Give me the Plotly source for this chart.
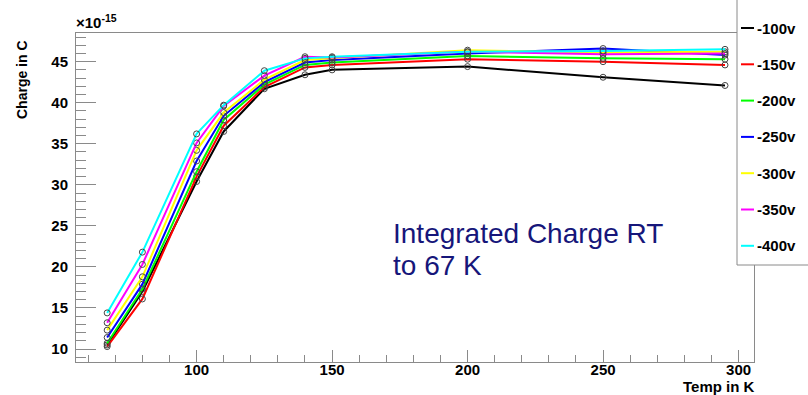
import plotly.graph_objects as go

# ---- data ----
temps = [67, 80, 100, 110, 125, 140, 150, 200, 250, 295]
series_names = ["-100v", "-150v", "-200v", "-250v", "-300v", "-350v", "-400v"]
series_colors = ["#000000", "#ff0000", "#00ff00", "#0000ff", "#ffff00", "#ff00ff", "#00ffff"]
v100 = [10.5, 17.0, 30.4, 36.5, 41.7, 43.4, 44.0, 44.4, 43.1, 42.1]
v150 = [10.3, 16.1, 31.0, 37.2, 41.9, 44.3, 44.6, 45.3, 45.0, 44.6]
v200 = [10.7, 17.3, 31.6, 37.9, 42.2, 44.6, 44.9, 45.7, 45.4, 45.3]
v250 = [11.4, 17.9, 32.9, 38.4, 42.5, 44.9, 45.2, 46.0, 46.6, 45.8]
v300 = [12.3, 18.8, 34.2, 38.8, 42.8, 45.2, 45.4, 46.4, 46.1, 46.2]
v350 = [13.2, 20.3, 35.1, 39.6, 43.3, 45.6, 45.5, 46.2, 45.9, 46.0]
v400 = [14.4, 21.8, 36.2, 39.7, 43.9, 45.4, 45.6, 46.2, 46.3, 46.5]
series_values = [v100, v150, v200, v250, v300, v350, v400]
x_ticks = [100, 150, 200, 250, 300]
y_ticks = [10, 15, 20, 25, 30, 35, 40, 45]

W, H = 808, 395
ML, MR, MT, MB = 76, 54, 33, 33
PW, PH = W - ML - MR, H - MT - MB


def px(x):
    return (x - ML) / PW


def py(y):
    return (H - MB - y) / PH


fig = go.Figure()
for name, col, vals in zip(series_names, series_colors, series_values):
    fig.add_trace(go.Scatter(
        x=temps, y=vals, name=name, mode="lines+markers",
        line=dict(color=col, width=2),
        marker=dict(symbol="circle-open", size=6, color="#444444", line=dict(width=1)),
        showlegend=False,
    ))

axis_grey = "#8a8a8a"
tickfont = dict(family="Liberation Sans, Arial, sans-serif", size=15, color="black", weight="bold")

fig.update_layout(
    width=W, height=H,
    margin=dict(l=ML, r=MR, t=MT, b=MB),
    paper_bgcolor="white", plot_bgcolor="white",
    xaxis=dict(
        range=[55.5, 305.7], tickvals=x_ticks, ticks="inside", ticklen=12, tickwidth=1,
        tickcolor=axis_grey, showline=True, linecolor=axis_grey, linewidth=1, mirror=True,
        showgrid=False, zeroline=False, tickfont=tickfont, ticklabelstandoff=-6,
        minor=dict(dtick=10, tick0=0, ticks="inside", ticklen=7, tickcolor=axis_grey, showgrid=False),
    ),
    yaxis=dict(
        range=[8.42, 48.49], tickvals=y_ticks, ticks="inside", ticklen=20, tickwidth=1,
        tickcolor=axis_grey, showline=True, linecolor=axis_grey, linewidth=1, mirror=True,
        showgrid=False, zeroline=False, tickfont=tickfont, ticklabelstandoff=4,
        minor=dict(dtick=1, tick0=0, ticks="inside", ticklen=10, tickcolor=axis_grey, showgrid=False),
    ),
    showlegend=False,
)

bold = dict(family="Liberation Sans, Arial, sans-serif", size=14, color="black", weight="bold")
annotations = [
    dict(text="Charge in C", x=px(22), y=py(80), xref="paper", yref="paper", textangle=-90,
         showarrow=False, font=bold, xanchor="center", yanchor="middle"),
    dict(text="Temp in K", x=px(757), y=py(386), xref="paper", yref="paper",
         showarrow=False, font=dict(bold, size=15), xanchor="right", yanchor="middle"),
    dict(text="×10<sup>-15</sup>", x=px(74), y=py(21), xref="paper", yref="paper",
         showarrow=False, font=dict(bold, size=15), xanchor="left", yanchor="middle"),
    dict(text="Integrated Charge RT", x=px(391), y=py(233), xref="paper", yref="paper",
         showarrow=False, font=dict(family="Liberation Sans, Arial, sans-serif", size=28, color="#16167a"),
         xanchor="left", yanchor="middle"),
    dict(text="to 67 K", x=px(391), y=py(265), xref="paper", yref="paper",
         showarrow=False, font=dict(family="Liberation Sans, Arial, sans-serif", size=28, color="#16167a"),
         xanchor="left", yanchor="middle"),
]

shapes = [
    dict(type="rect", xref="paper", yref="paper", x0=px(737), x1=px(812), y0=py(265), y1=py(-2),
         fillcolor="white", line=dict(color=axis_grey, width=1), layer="above"),
]
for i, (name, col) in enumerate(zip(series_names, series_colors)):
    yc = 28 + 36.3 * i
    shapes.append(dict(type="line", xref="paper", yref="paper", x0=px(741), x1=px(754),
                       y0=py(yc), y1=py(yc), line=dict(color=col, width=2), layer="above"))
    annotations.append(dict(text=name, x=px(755), y=py(yc), xref="paper", yref="paper",
                            showarrow=False, font=dict(bold, size=15), xanchor="left", yanchor="middle"))

fig.update_layout(annotations=annotations, shapes=shapes)
fig.write_html("out.html")
